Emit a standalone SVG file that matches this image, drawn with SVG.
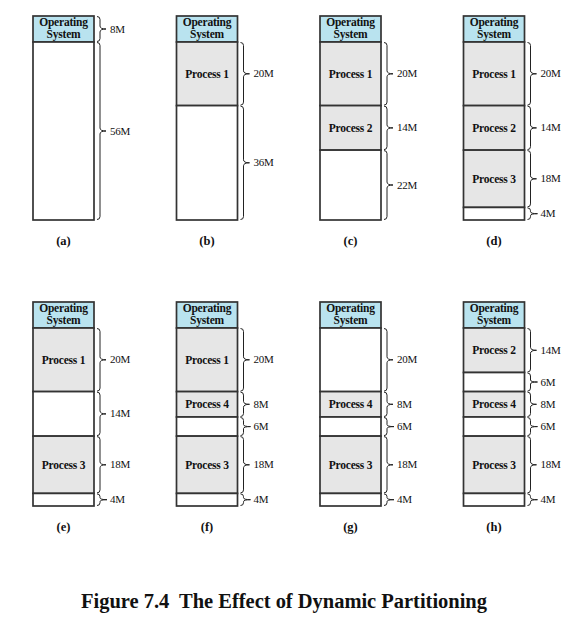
<svg xmlns="http://www.w3.org/2000/svg" width="576" height="624" viewBox="0 0 576 624">
<style>
.os{fill:#b9e3ef;stroke:#333;stroke-width:1.7}
.p{fill:#e6e6e6;stroke:#333;stroke-width:1.7}
.f{fill:#ffffff;stroke:#333;stroke-width:1.7}
.b{fill:none;stroke:#222;stroke-width:1}
.t{font-family:"Liberation Serif","Times New Roman",serif;font-weight:bold;font-size:11.5px;text-anchor:middle;fill:#111;letter-spacing:-0.2px}
.s{font-family:"Liberation Serif","Times New Roman",serif;font-size:11px;fill:#111;letter-spacing:-0.2px}
.c{font-family:"Liberation Serif","Times New Roman",serif;font-weight:bold;font-size:12.5px;text-anchor:middle;fill:#111}
.title{font-family:"Liberation Serif","Times New Roman",serif;font-weight:bold;font-size:20.5px;fill:#111}
</style>
<rect width="576" height="624" fill="#fff"/>

<g id="col-a">
<rect class="os" x="33" y="16" width="61" height="26"/>
<text class="t" x="63.5" y="26">Operating</text><text class="t" x="63.5" y="38">System</text>
<rect class="f" x="33" y="42" width="61" height="178"/>
<text class="s" x="110" y="32.5">8M</text>
<text class="s" x="110" y="134.5">56M</text>
<text class="c" x="63.5" y="245">(a)</text>
</g>

<g id="col-b">
<rect class="os" x="176.5" y="16" width="61" height="26"/>
<text class="t" x="207" y="26">Operating</text><text class="t" x="207" y="38">System</text>
<rect class="p" x="176.5" y="42" width="61" height="63.6"/>
<text class="t" x="207" y="77.5">Process 1</text>
<rect class="f" x="176.5" y="105.6" width="61" height="114.4"/>
<text class="s" x="253.5" y="77.3">20M</text>
<text class="s" x="253.5" y="166.3">36M</text>
<text class="c" x="207" y="245">(b)</text>
</g>

<g id="col-c">
<rect class="os" x="320" y="16" width="61" height="26"/>
<text class="t" x="350.5" y="26">Operating</text><text class="t" x="350.5" y="38">System</text>
<rect class="p" x="320" y="42" width="61" height="63.6"/>
<text class="t" x="350.5" y="77.5">Process 1</text>
<rect class="p" x="320" y="105.6" width="61" height="44.5"/>
<text class="t" x="350.5" y="131.6">Process 2</text>
<rect class="f" x="320" y="150.1" width="61" height="69.9"/>
<text class="s" x="397" y="77.3">20M</text>
<text class="s" x="397" y="131.4">14M</text>
<text class="s" x="397" y="188.5">22M</text>
<text class="c" x="350.5" y="245">(c)</text>
</g>

<g id="col-d">
<rect class="os" x="463.5" y="16" width="61" height="26"/>
<text class="t" x="494" y="26">Operating</text><text class="t" x="494" y="38">System</text>
<rect class="p" x="463.5" y="42" width="61" height="63.6"/>
<text class="t" x="494" y="77.5">Process 1</text>
<rect class="p" x="463.5" y="105.6" width="61" height="44.5"/>
<text class="t" x="494" y="131.6">Process 2</text>
<rect class="p" x="463.5" y="150.1" width="61" height="57.3"/>
<text class="t" x="494" y="182.5">Process 3</text>
<rect class="f" x="463.5" y="207.4" width="61" height="12.6"/>
<text class="s" x="540.5" y="77.3">20M</text>
<text class="s" x="540.5" y="131.4">14M</text>
<text class="s" x="540.5" y="182.3">18M</text>
<text class="s" x="540.5" y="217.2">4M</text>
<text class="c" x="494" y="245">(d)</text>
</g>

<g id="col-e">
<rect class="os" x="33" y="302" width="61" height="26"/>
<text class="t" x="63.5" y="312">Operating</text><text class="t" x="63.5" y="324">System</text>
<rect class="p" x="33" y="328" width="61" height="63.6"/>
<text class="t" x="63.5" y="363.5">Process 1</text>
<rect class="f" x="33" y="391.6" width="61" height="44.5"/>
<rect class="p" x="33" y="436.1" width="61" height="57.3"/>
<text class="t" x="63.5" y="468.5">Process 3</text>
<rect class="f" x="33" y="493.4" width="61" height="12.6"/>
<text class="s" x="110" y="363.3">20M</text>
<text class="s" x="110" y="417.4">14M</text>
<text class="s" x="110" y="468.3">18M</text>
<text class="s" x="110" y="503.2">4M</text>
<text class="c" x="63.5" y="531">(e)</text>
</g>

<g id="col-f">
<rect class="os" x="176.5" y="302" width="61" height="26"/>
<text class="t" x="207" y="312">Operating</text><text class="t" x="207" y="324">System</text>
<rect class="p" x="176.5" y="328" width="61" height="63.6"/>
<text class="t" x="207" y="363.5">Process 1</text>
<rect class="p" x="176.5" y="391.6" width="61" height="25.4"/>
<text class="t" x="207" y="408">Process 4</text>
<rect class="f" x="176.5" y="417" width="61" height="19.1"/>
<rect class="p" x="176.5" y="436.1" width="61" height="57.3"/>
<text class="t" x="207" y="468.5">Process 3</text>
<rect class="f" x="176.5" y="493.4" width="61" height="12.6"/>
<text class="s" x="253.5" y="407.8">8M</text>
<text class="s" x="253.5" y="363.3">20M</text>
<text class="s" x="253.5" y="430.1">6M</text>
<text class="s" x="253.5" y="468.3">18M</text>
<text class="s" x="253.5" y="503.2">4M</text>
<text class="c" x="207" y="531">(f)</text>
</g>

<g id="col-g">
<rect class="os" x="320" y="302" width="61" height="26"/>
<text class="t" x="350.5" y="312">Operating</text><text class="t" x="350.5" y="324">System</text>
<rect class="f" x="320" y="328" width="61" height="63.6"/>
<rect class="p" x="320" y="391.6" width="61" height="25.4"/>
<text class="t" x="350.5" y="408">Process 4</text>
<rect class="f" x="320" y="417" width="61" height="19.1"/>
<rect class="p" x="320" y="436.1" width="61" height="57.3"/>
<text class="t" x="350.5" y="468.5">Process 3</text>
<rect class="f" x="320" y="493.4" width="61" height="12.6"/>
<text class="s" x="397" y="363.3">20M</text>
<text class="s" x="397" y="407.8">8M</text>
<text class="s" x="397" y="430.1">6M</text>
<text class="s" x="397" y="468.3">18M</text>
<text class="s" x="397" y="503.2">4M</text>
<text class="c" x="350.5" y="531">(g)</text>
</g>

<g id="col-h">
<rect class="os" x="463.5" y="302" width="61" height="26"/>
<text class="t" x="494" y="312">Operating</text><text class="t" x="494" y="324">System</text>
<rect class="p" x="463.5" y="328" width="61" height="44.5"/>
<text class="t" x="494" y="354">Process 2</text>
<rect class="f" x="463.5" y="372.5" width="61" height="19.1"/>
<rect class="p" x="463.5" y="391.6" width="61" height="25.4"/>
<text class="t" x="494" y="408">Process 4</text>
<rect class="f" x="463.5" y="417" width="61" height="19.1"/>
<rect class="p" x="463.5" y="436.1" width="61" height="57.3"/>
<text class="t" x="494" y="468.5">Process 3</text>
<rect class="f" x="463.5" y="493.4" width="61" height="12.6"/>
<text class="s" x="540.5" y="353.8">14M</text>
<text class="s" x="540.5" y="385.5">6M</text>
<text class="s" x="540.5" y="407.8">8M</text>
<text class="s" x="540.5" y="430.1">6M</text>
<text class="s" x="540.5" y="468.3">18M</text>
<text class="s" x="540.5" y="503.2">4M</text>
<text class="c" x="494" y="531">(h)</text>
</g>

<g id="braces" class="b">
<path class="b" d="M97 16.5 Q100 16.5 100 19.5 V26 Q100 29 106 29 Q100 29 100 32 V38.5 Q100 41.5 97 41.5"/>
<path class="b" d="M97 42.5 Q100 42.5 100 45.5 V128 Q100 131 106 131 Q100 131 100 134 V216.5 Q100 219.5 97 219.5"/>
<path class="b" d="M240.5 42.5 Q243.5 42.5 243.5 45.5 V70.8 Q243.5 73.8 249.5 73.8 Q243.5 73.8 243.5 76.8 V102.1 Q243.5 105.1 240.5 105.1"/>
<path class="b" d="M240.5 106.1 Q243.5 106.1 243.5 109.1 V159.8 Q243.5 162.8 249.5 162.8 Q243.5 162.8 243.5 165.8 V216.5 Q243.5 219.5 240.5 219.5"/>
<path class="b" d="M384 42.5 Q387 42.5 387 45.5 V70.8 Q387 73.8 393 73.8 Q387 73.8 387 76.8 V102.1 Q387 105.1 384 105.1"/>
<path class="b" d="M384 106.1 Q387 106.1 387 109.1 V124.9 Q387 127.9 393 127.9 Q387 127.9 387 130.9 V146.6 Q387 149.6 384 149.6"/>
<path class="b" d="M384 150.6 Q387 150.6 387 153.6 V182 Q387 185 393 185 Q387 185 387 188 V216.5 Q387 219.5 384 219.5"/>
<path class="b" d="M527.5 42.5 Q530.5 42.5 530.5 45.5 V70.8 Q530.5 73.8 536.5 73.8 Q530.5 73.8 530.5 76.8 V102.1 Q530.5 105.1 527.5 105.1"/>
<path class="b" d="M527.5 106.1 Q530.5 106.1 530.5 109.1 V124.9 Q530.5 127.9 536.5 127.9 Q530.5 127.9 530.5 130.9 V146.6 Q530.5 149.6 527.5 149.6"/>
<path class="b" d="M527.5 150.6 Q530.5 150.6 530.5 153.6 V175.8 Q530.5 178.8 536.5 178.8 Q530.5 178.8 530.5 181.8 V203.9 Q530.5 206.9 527.5 206.9"/>
<path class="b" d="M527.5 207.9 Q530.5 207.9 530.5 210.7 V211.7 Q530.5 213.7 537.5 213.7 Q530.5 213.7 530.5 215.7 V216.7 Q530.5 219.5 527.5 219.5"/>
<path class="b" d="M97 328.5 Q100 328.5 100 331.5 V356.8 Q100 359.8 106 359.8 Q100 359.8 100 362.8 V388.1 Q100 391.1 97 391.1"/>
<path class="b" d="M97 392.1 Q100 392.1 100 395.1 V410.9 Q100 413.9 106 413.9 Q100 413.9 100 416.9 V432.6 Q100 435.6 97 435.6"/>
<path class="b" d="M97 436.6 Q100 436.6 100 439.6 V461.8 Q100 464.8 106 464.8 Q100 464.8 100 467.8 V489.9 Q100 492.9 97 492.9"/>
<path class="b" d="M97 493.9 Q100 493.9 100 496.7 V497.7 Q100 499.7 107 499.7 Q100 499.7 100 501.7 V502.7 Q100 505.5 97 505.5"/>
<path class="b" d="M240.5 328.5 Q243.5 328.5 243.5 331.5 V356.8 Q243.5 359.8 249.5 359.8 Q243.5 359.8 243.5 362.8 V388.1 Q243.5 391.1 240.5 391.1"/>
<path class="b" d="M240.5 392.1 Q243.5 392.1 243.5 395.1 V401.3 Q243.5 404.3 249.5 404.3 Q243.5 404.3 243.5 407.3 V413.5 Q243.5 416.5 240.5 416.5"/>
<path class="b" d="M240.5 417.5 Q243.5 417.5 243.5 420.5 V424.6 Q243.5 426.6 250.5 426.6 Q243.5 426.6 243.5 428.6 V432.6 Q243.5 435.6 240.5 435.6"/>
<path class="b" d="M240.5 436.6 Q243.5 436.6 243.5 439.6 V461.8 Q243.5 464.8 249.5 464.8 Q243.5 464.8 243.5 467.8 V489.9 Q243.5 492.9 240.5 492.9"/>
<path class="b" d="M240.5 493.9 Q243.5 493.9 243.5 496.7 V497.7 Q243.5 499.7 250.5 499.7 Q243.5 499.7 243.5 501.7 V502.7 Q243.5 505.5 240.5 505.5"/>
<path class="b" d="M384 328.5 Q387 328.5 387 331.5 V356.8 Q387 359.8 393 359.8 Q387 359.8 387 362.8 V388.1 Q387 391.1 384 391.1"/>
<path class="b" d="M384 392.1 Q387 392.1 387 395.1 V401.3 Q387 404.3 393 404.3 Q387 404.3 387 407.3 V413.5 Q387 416.5 384 416.5"/>
<path class="b" d="M384 417.5 Q387 417.5 387 420.5 V424.6 Q387 426.6 394 426.6 Q387 426.6 387 428.6 V432.6 Q387 435.6 384 435.6"/>
<path class="b" d="M384 436.6 Q387 436.6 387 439.6 V461.8 Q387 464.8 393 464.8 Q387 464.8 387 467.8 V489.9 Q387 492.9 384 492.9"/>
<path class="b" d="M384 493.9 Q387 493.9 387 496.7 V497.7 Q387 499.7 394 499.7 Q387 499.7 387 501.7 V502.7 Q387 505.5 384 505.5"/>
<path class="b" d="M527.5 328.5 Q530.5 328.5 530.5 331.5 V347.3 Q530.5 350.3 536.5 350.3 Q530.5 350.3 530.5 353.3 V369 Q530.5 372 527.5 372"/>
<path class="b" d="M527.5 373 Q530.5 373 530.5 376 V380 Q530.5 382 537.5 382 Q530.5 382 530.5 384 V388.1 Q530.5 391.1 527.5 391.1"/>
<path class="b" d="M527.5 392.1 Q530.5 392.1 530.5 395.1 V401.3 Q530.5 404.3 536.5 404.3 Q530.5 404.3 530.5 407.3 V413.5 Q530.5 416.5 527.5 416.5"/>
<path class="b" d="M527.5 417.5 Q530.5 417.5 530.5 420.5 V424.6 Q530.5 426.6 537.5 426.6 Q530.5 426.6 530.5 428.6 V432.6 Q530.5 435.6 527.5 435.6"/>
<path class="b" d="M527.5 436.6 Q530.5 436.6 530.5 439.6 V461.8 Q530.5 464.8 536.5 464.8 Q530.5 464.8 530.5 467.8 V489.9 Q530.5 492.9 527.5 492.9"/>
<path class="b" d="M527.5 493.9 Q530.5 493.9 530.5 496.7 V497.7 Q530.5 499.7 537.5 499.7 Q530.5 499.7 530.5 501.7 V502.7 Q530.5 505.5 527.5 505.5"/>
</g>

<text class="title" x="81" y="608" xml:space="preserve" textLength="406" lengthAdjust="spacing">Figure 7.4  The Effect of Dynamic Partitioning</text>
</svg>
